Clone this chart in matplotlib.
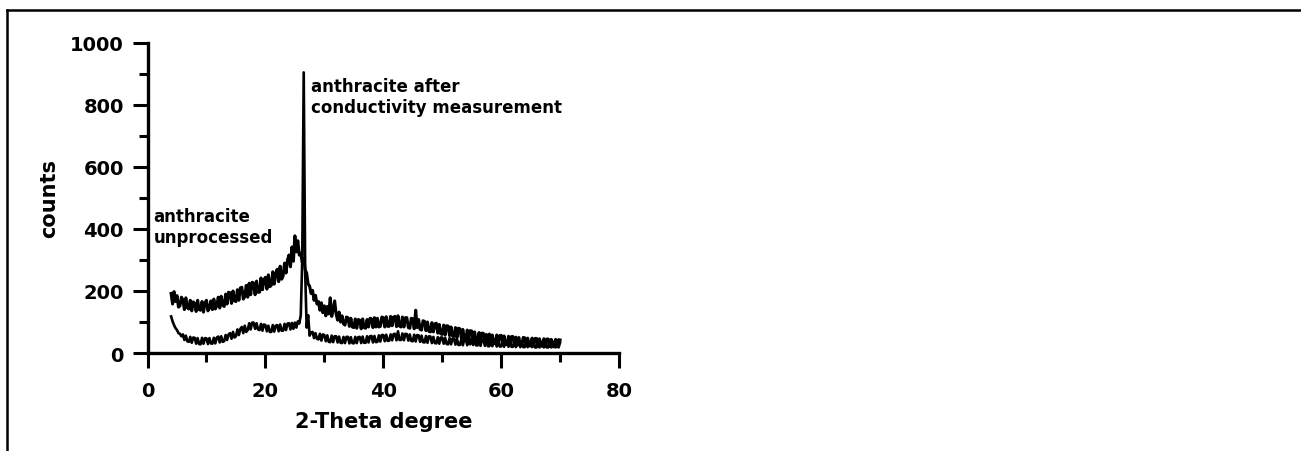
import matplotlib
matplotlib.use("Agg")
import matplotlib.pyplot as plt
import numpy as np
from matplotlib.lines import Line2D

# 2-theta grid, 0.25 degree steps from 4 to 70
two_theta = np.round(np.arange(4.0, 70.01, 0.25), 2)

# anthracite unprocessed (upper noisy curve), counts
unprocessed = [
    192, 158, 198, 166,
    185, 148, 152, 180,
    172, 140, 178, 146,
    142, 170, 136, 165,
    160, 134, 170, 140,
    138, 166, 132, 162,
    170, 136, 145, 168,
    140, 174, 142, 152,
    180, 145, 183, 154,
    150, 190, 158, 196,
    194, 160, 200, 168,
    166, 204, 170, 210,
    212, 174, 182, 218,
    180, 225, 188, 228,
    226, 188, 232, 196,
    196, 242, 204, 236,
    244, 206, 252, 214,
    218, 262, 222, 256,
    270, 230, 280, 238,
    248, 290, 258, 300,
    316, 278, 342, 296,
    378, 326, 362, 316,
    322, 292, 305, 268,
    258, 222, 216, 192,
    202, 170, 186, 158,
    166, 138, 162, 130,
    152, 120, 150, 126,
    178, 118, 140, 168,
    126, 106, 132, 100,
    120, 94, 90, 116,
    114, 86, 112, 84,
    82, 110, 80, 108,
    106, 78, 110, 82,
    80, 108, 84, 112,
    110, 82, 114, 84,
    112, 84, 86, 116,
    114, 84, 117, 86,
    86, 118, 88, 116,
    118, 85, 120, 87,
    84, 116, 84, 114,
    114, 82, 80, 112,
    110, 78, 138, 82,
    108, 76, 74, 104,
    102, 72, 100, 70,
    68, 98, 68, 94,
    96, 64, 92, 62,
    60, 90, 58, 88,
    87, 56, 84, 55,
    54, 82, 50, 80,
    78, 48, 76, 47,
    44, 74, 43, 72,
    71, 40, 68, 39,
    38, 66, 37, 64,
    63, 34, 60, 34,
    61, 32, 58, 31,
    30, 58, 30, 56,
    57, 28, 55, 28,
    27, 54, 27, 53,
    53, 26, 51, 25,
    50, 25, 24, 50,
    49, 24, 48, 23,
    23, 48, 23, 47,
    47, 22, 46, 22,
    22, 46, 21, 45,
    45, 21, 44, 21,
    20, 44, 21, 43,
    42,
]

# anthracite after conductivity measurement (lower curve with sharp peak)
after_conductivity = [
    118, 102, 90, 80,
    74, 64, 62, 54,
    60, 42, 56, 38,
    36, 52, 33, 50,
    49, 30, 48, 29,
    28, 49, 30, 48,
    47, 29, 48, 31,
    30, 49, 31, 50,
    53, 34, 54, 36,
    38, 58, 42, 60,
    64, 46, 68, 50,
    54, 76, 58, 78,
    84, 64, 88, 68,
    74, 96, 76, 98,
    98, 78, 96, 76,
    74, 94, 72, 92,
    90, 70, 88, 68,
    68, 90, 69, 88,
    90, 70, 92, 72,
    72, 94, 74, 95,
    96, 76, 97, 78,
    98, 82, 102, 95,
    122, 300, 905, 260,
    82, 122, 56, 66,
    68, 48, 64, 46,
    44, 62, 40, 60,
    58, 38, 57, 36,
    35, 56, 35, 54,
    54, 34, 53, 33,
    32, 52, 32, 52,
    52, 31, 51, 32,
    31, 52, 32, 51,
    52, 32, 53, 33,
    33, 54, 34, 54,
    55, 34, 55, 35,
    36, 57, 37, 58,
    58, 38, 59, 39,
    40, 60, 41, 61,
    62, 41, 70, 42,
    42, 63, 41, 62,
    61, 40, 60, 39,
    38, 59, 37, 58,
    57, 36, 56, 35,
    34, 55, 33, 54,
    53, 32, 52, 32,
    31, 51, 30, 50,
    50, 30, 49, 29,
    28, 48, 28, 47,
    46, 27, 46, 26,
    26, 45, 25, 44,
    44, 25, 50, 28,
    46, 26, 44, 25,
    24, 43, 23, 42,
    42, 23, 41, 22,
    22, 40, 22, 40,
    40, 21, 40, 21,
    21, 39, 20, 39,
    39, 20, 38, 20,
    20, 38, 19, 38,
    38, 19, 37, 19,
    19, 37, 19, 37,
    37, 19, 37, 18,
    18, 36, 18, 36,
    36, 18, 36, 18,
    18, 36, 18, 36,
    36, 18, 36, 18,
    34,
]

x_ticks = [0, 20, 40, 60, 80]
y_ticks = [0, 200, 400, 600, 800, 1000]

plt.rcParams['font.family'] = 'DejaVu Sans'
plt.rcParams['font.weight'] = 'bold'

fig = plt.figure(figsize=(13.01, 4.52), dpi=100)
ax = fig.add_axes([0.1134, 0.2168, 0.3624, 0.686])

ax.plot(two_theta, unprocessed, color='black', lw=2.2)
ax.plot(two_theta, after_conductivity, color='black', lw=1.9)

ax.set_xlim(0, 80)
ax.set_ylim(0, 1000)
ax.set_xticks(x_ticks)
ax.set_yticks(y_ticks)
ax.set_xticks(np.arange(10, 80, 20), minor=True)
ax.set_yticks(np.arange(100, 1000, 200), minor=True)
ax.set_xticklabels([str(v) for v in x_ticks], fontsize=14, fontweight='bold')
ax.set_yticklabels([str(v) for v in y_ticks], fontsize=14, fontweight='bold')

for side in ['top', 'right']:
    ax.spines[side].set_visible(False)
for side in ['left', 'bottom']:
    ax.spines[side].set_linewidth(2.4)
ax.tick_params(which='major', direction='out', length=11, width=2.2)
ax.tick_params(which='minor', direction='out', length=6.5, width=2.2)
ax.tick_params(axis='y', which='major', pad=6)
ax.tick_params(axis='x', which='major', pad=9)

ax.set_xlabel("2-Theta degree", fontsize=15, fontweight='bold', labelpad=8)
ax.set_ylabel("counts", fontsize=15, fontweight='bold', labelpad=8)

ax.text(1.0, 470, "anthracite\nunprocessed", fontsize=12, fontweight='bold',
        va='top', ha='left')
ax.text(27.8, 890, "anthracite after\nconductivity measurement", fontsize=12,
        fontweight='bold', va='top', ha='left')

# frame lines at top and left edge of the picture
fig.add_artist(Line2D([7 / 1301, 1.0], [1 - 11 / 452, 1 - 11 / 452],
                      transform=fig.transFigure, color='black', lw=1.8))
fig.add_artist(Line2D([7 / 1301, 7 / 1301], [0.0, 1 - 11 / 452],
                      transform=fig.transFigure, color='black', lw=1.8))

fig.savefig("out.png", dpi=100)
